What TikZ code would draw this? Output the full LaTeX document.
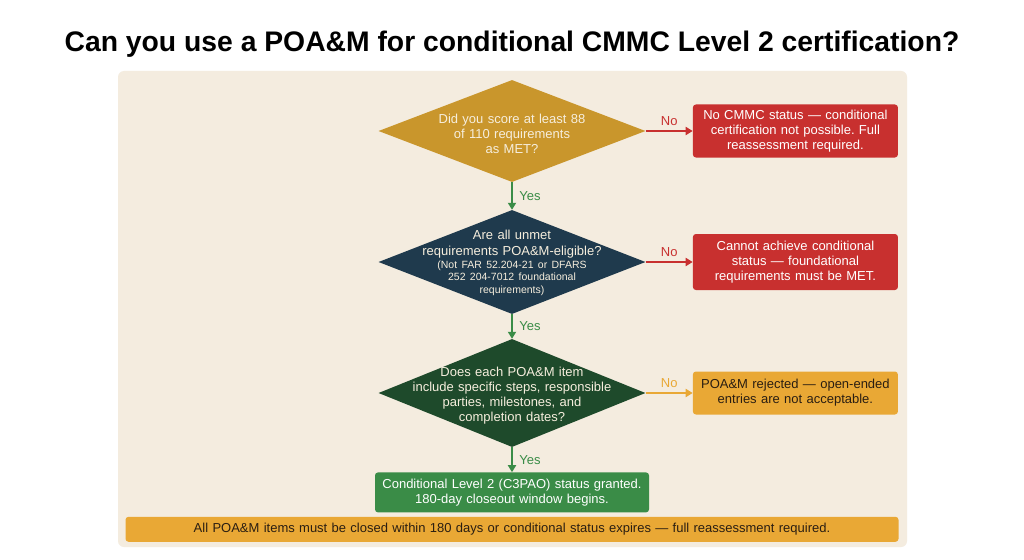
\documentclass[tikz,border=0pt]{standalone}
\usepackage{fontspec}
\setmainfont{Liberation Sans}
\usetikzlibrary{arrows.meta,positioning,shapes.geometric}
\definecolor{cmmcPanel}{HTML}{F4ECDF}
\definecolor{cmmcGold}{HTML}{C9962C}
\definecolor{cmmcNavy}{HTML}{1F3A4D}
\definecolor{cmmcPine}{HTML}{1E4A2B}
\definecolor{cmmcRed}{HTML}{C8302F}
\definecolor{cmmcAmber}{HTML}{E9A835}
\definecolor{cmmcGreen}{HTML}{3A8C47}
\definecolor{cmmcCream}{HTML}{F6EEDD}
\definecolor{cmmcInk}{HTML}{2A1E12}
\frenchspacing

\begin{document}
\begin{tikzpicture}[x=1pt,y=-1pt,font=\fontsize{13}{15}\selectfont,
   query/.style={diamond,minimum width=267pt,inner sep=0pt},
   qtext/.style={text=cmmcCream,text width=210pt,align=center,inner sep=0pt},
   outcome/.style={rounded corners=3pt,text width=196pt,align=center,
                   inner sep=2pt,minimum width=205pt},
   flow/.style={-{Triangle[length=7pt,width=8pt]},line width=2pt},
   nolbl/.style={midway,above=1pt},
   yeslbl/.style={midway,right=3pt,text=cmmcGreen}]
  \useasboundingbox (0,0) rectangle (1024,559);
  \fill[white] (0,0) rectangle (1024,559);
  \fill[cmmcPanel,rounded corners=6pt] (118,71) rectangle (907,547);
  \node[font=\bfseries\fontsize{28.3}{32}\selectfont] (title) at (512,44)
    {Can you use a POA\&M for conditional CMMC Level 2 certification?};

  \node[query,fill=cmmcGold,minimum height=102pt] (q1) at (512,131) {};
  \node[qtext,yshift=-3pt] (q1text) at (q1.center)
    {Did you score at least 88\\of 110 requirements\\as MET?};
  \node[query,fill=cmmcNavy,minimum height=104pt] (q2) at (512,262) {};
  \node[qtext,yshift=-1pt] (q2text) at (q2.center)
    {{\fontsize{13}{16}\selectfont Are all unmet\\requirements POA\&M-eligible?\par}
     {\fontsize{10.5}{12.5}\selectfont (Not FAR 52.204-21 or DFARS\\252 204-7012 foundational\\requirements)\par}};
  \node[query,fill=cmmcPine,minimum height=108pt] (q3) at (512,393) {};
  \node[qtext,yshift=-3pt] (q3text) at (q3.center)
    {Does each POA\&M item\\include specific steps, responsible\\parties, milestones, and\\completion dates?};

  \node[outcome,fill=cmmcRed,text=white,minimum height=53pt,right=47pt of q1] (r1)
    {No CMMC status — conditional\\certification not possible. Full\\reassessment required.};
  \node[outcome,fill=cmmcRed,text=white,minimum height=56pt,right=47pt of q2] (r2)
    {Cannot achieve conditional\\status — foundational\\requirements must be MET.};
  \node[outcome,fill=cmmcAmber,text=cmmcInk,minimum height=43pt,right=47pt of q3] (r3)
    {POA\&M rejected — open-ended\\entries are not acceptable.};
  \node[outcome,fill=cmmcGreen,text=white,text width=265pt,minimum width=274pt,
        minimum height=40pt,below=25pt of q3] (done)
    {Conditional Level 2 (C3PAO) status granted.\\180-day closeout window begins.};
  \node[outcome,fill=cmmcAmber,text=cmmcInk,text width=765pt,minimum width=773pt,
        minimum height=25pt,below=4pt of done] (note)
    {All POA\&M items must be closed within 180 days or conditional status expires — full reassessment required.};

  \draw[flow,cmmcRed] (q1.east) -- node[nolbl,text=cmmcRed] {No} (r1.west);
  \draw[flow,cmmcRed] (q2.east) -- node[nolbl,text=cmmcRed] {No} (r2.west);
  \draw[flow,cmmcAmber] (q3.east) -- node[nolbl,text=cmmcAmber] {No} (r3.west);
  \draw[flow,cmmcGreen] (q1.south) -- node[yeslbl] {Yes} (q2.north);
  \draw[flow,cmmcGreen] (q2.south) -- node[yeslbl] {Yes} (q3.north);
  \draw[flow,cmmcGreen] (q3.south) -- node[yeslbl] {Yes} (done.north);
\end{tikzpicture}
\end{document}
